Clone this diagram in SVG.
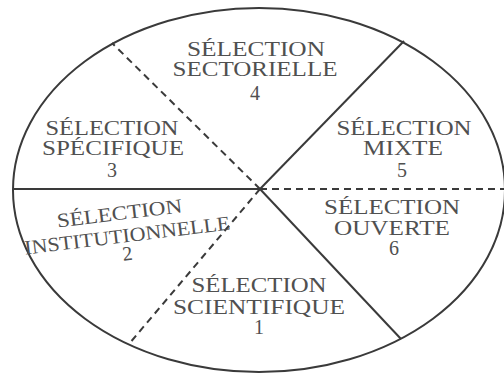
<svg xmlns="http://www.w3.org/2000/svg" width="504" height="373" viewBox="0 0 504 373">
<style>
.solid{stroke:#3a3a3a;stroke-width:2;fill:none}
.dash{stroke:#3a3a3a;stroke-width:2;fill:none;stroke-dasharray:7 5}
text{font-family:"Liberation Serif","Times New Roman",serif;font-size:20px;fill:#505050;text-anchor:middle}
</style>
<rect width="504" height="373" fill="#ffffff"/>
<g id="ellipse"><ellipse cx="259" cy="190" rx="246" ry="182" class="solid"/></g>
<g id="connectors">
<line x1="13" y1="189" x2="260" y2="189" class="solid"/>
<line x1="260" y1="189" x2="504" y2="189" class="dash"/>
<line x1="260" y1="189" x2="112" y2="43" class="dash"/>
<line x1="260" y1="189" x2="404" y2="41" class="solid"/>
<line x1="260" y1="189" x2="129" y2="344" class="dash"/>
<line x1="260" y1="189" x2="401" y2="339" class="solid"/>
</g>
<g id="s4">
<text x="256" y="56" textLength="138" lengthAdjust="spacingAndGlyphs">SÉLECTION</text>
<text x="255" y="76" textLength="165" lengthAdjust="spacingAndGlyphs">SECTORIELLE</text>
<text x="255" y="100">4</text>
</g>
<g id="s3">
<text x="112" y="135" textLength="133" lengthAdjust="spacingAndGlyphs">SÉLECTION</text>
<text x="113" y="155" textLength="142" lengthAdjust="spacingAndGlyphs">SPÉCIFIQUE</text>
<text x="112" y="177">3</text>
</g>
<g id="s5">
<text x="404" y="135" textLength="135" lengthAdjust="spacingAndGlyphs">SÉLECTION</text>
<text x="403" y="155" textLength="80" lengthAdjust="spacingAndGlyphs">MIXTE</text>
<text x="402" y="177">5</text>
</g>
<g id="s2" transform="rotate(-7 128 242)">
<text x="123" y="219" textLength="126" lengthAdjust="spacingAndGlyphs">SÉLECTION</text>
<text x="128" y="242" textLength="207" lengthAdjust="spacingAndGlyphs">INSTITUTIONNELLE</text>
<text x="126" y="260">2</text>
</g>
<g id="s6">
<text x="392" y="214" textLength="136" lengthAdjust="spacingAndGlyphs">SÉLECTION</text>
<text x="392" y="235" textLength="116" lengthAdjust="spacingAndGlyphs">OUVERTE</text>
<text x="394" y="255">6</text>
</g>
<g id="s1">
<text x="259" y="292" textLength="135" lengthAdjust="spacingAndGlyphs">SÉLECTION</text>
<text x="259" y="314" textLength="172" lengthAdjust="spacingAndGlyphs">SCIENTIFIQUE</text>
<text x="259" y="334">1</text>
</g>
</svg>
